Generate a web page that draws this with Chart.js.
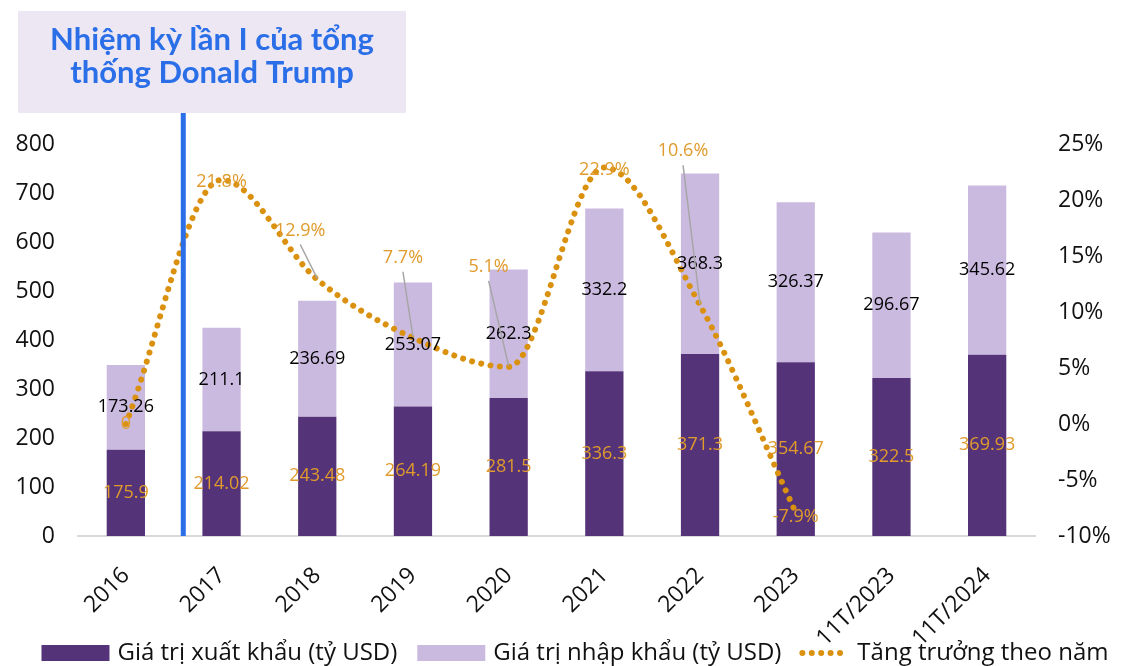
<!DOCTYPE html>
<html>
<head>
<meta charset="utf-8">
<script src="https://cdn.jsdelivr.net/npm/chart.js@4.4.1/dist/chart.umd.min.js"></script>
<style>
html, body { margin: 0; padding: 0; background: #fff; }
#wrap { width: 1122px; height: 666px; position: relative; }
</style>
</head>
<body>
<div id="wrap"><canvas id="chart" width="1122" height="666"></canvas></div>
<script>
// data
const years = ['2016', '2017', '2018', '2019', '2020', '2021', '2022', '2023', '11T/2023', '11T/2024'];
const exportVals = [175.9, 214.02, 243.48, 264.19, 281.5, 336.3, 371.3, 354.67, 322.5, 369.93];
const importVals = [173.26, 211.1, 236.69, 253.07, 262.3, 332.2, 368.3, 326.37, 296.67, 345.62];
const growthVals = [0, 21.8, 12.9, 7.7, 5.1, 22.9, 10.6, -7.9, null, null];
const leftAxis = [0, 800, 100];   // min, max, step
const rightAxis = [-10, 25, 5];   // min, max, step (%)
const seriesNames = ['Giá trị xuất khẩu (tỷ USD)', 'Giá trị nhập khẩu (tỷ USD)', 'Tăng trưởng theo năm'];
const noteLines = ['Nhiệm kỳ lần I của tổng', 'thống Donald Trump'];
const termMark = 0.6; // category position of the blue marker

// pixel nudges for the growth labels (leader line when far away)
const growthShift = [[0, 0], [0, 2], [-17, -49], [-10, -80], [-20, -100], [0, 2], [-17, -154], [0, 4], null, null];

const DARK = '#543378';
const LIGHT = '#CBBAE0';
const ORANGE = '#DA910F';
const LABEL_ORANGE = '#E09B2C';
const BLUE = '#2B6FE8';
const FONT = "'Open Sans', sans-serif";
const DOTS = [0.01, 9.4];

const labelsPlugin = {
    id: 'valueLabels',
    afterDatasetsDraw(chart) {
        const ctx = chart.ctx;
        const y = chart.scales.y;
        const y1 = chart.scales.y1;
        const x = chart.scales.x;
        ctx.save();
        ctx.textAlign = 'center';
        ctx.textBaseline = 'middle';
        ctx.font = '18px ' + FONT;
        years.forEach((_, i) => {
            const cx = x.getPixelForValue(i);
            ctx.fillStyle = LABEL_ORANGE;
            ctx.fillText(String(exportVals[i]), cx, y.getPixelForValue(exportVals[i] / 2));
            ctx.fillStyle = '#000';
            ctx.fillText(String(importVals[i]), cx, y.getPixelForValue(exportVals[i] + importVals[i] / 2));
        });
        // growth labels
        growthVals.forEach((v, i) => {
            if (v === null) return;
            const px = x.getPixelForValue(i);
            const py = y1.getPixelForValue(v);
            const [dx, dy] = growthShift[i];
            const lx = px + dx, ly = py + dy;
            if (Math.abs(dy) > 20) {
                ctx.strokeStyle = '#A6A6A6';
                ctx.lineWidth = 1.5;
                ctx.beginPath();
                ctx.moveTo(lx, ly + 14);
                ctx.lineTo(px, py - 1);
                ctx.stroke();
            }
            ctx.fillStyle = LABEL_ORANGE;
            ctx.fillText(v === 0 ? '0' : v.toFixed(1) + '%', lx, ly);
        });
        ctx.restore();
    },
    afterDraw(chart) {
        const ctx = chart.ctx;
        const bx = chart.scales.x.getPixelForValue(termMark);
        ctx.save();
        // marker line for the first term
        ctx.fillStyle = BLUE;
        ctx.fillRect(bx - 2.5, 113, 5, chart.chartArea.bottom - 113);
        // note box
        ctx.fillStyle = '#EDE7F3';
        ctx.fillRect(18, 11, 388, 102);
        ctx.fillStyle = BLUE;
        ctx.font = "bold 31px Lato, sans-serif";
        ctx.textAlign = 'center';
        ctx.textBaseline = 'alphabetic';
        ctx.fillText(noteLines[0], 212, 50);
        ctx.fillText(noteLines[1], 212, 83);

        // legend row
        ctx.font = '24px ' + FONT;
        ctx.textAlign = 'left';
        ctx.textBaseline = 'middle';
        const ly = 653;
        const keyW = [68, 68, 48];
        let total = 0;
        seriesNames.forEach((s, i) => { total += keyW[i] + 8 + ctx.measureText(s).width; });
        total += 2 * 20;
        let lx = 575 - total / 2;
        seriesNames.forEach((s, i) => {
            if (i < 2) {
                ctx.fillStyle = i === 0 ? DARK : LIGHT;
                ctx.fillRect(lx, ly - 8, keyW[i], 16);
            } else {
                ctx.strokeStyle = ORANGE;
                ctx.lineWidth = 6;
                ctx.lineCap = 'round';
                ctx.setLineDash(DOTS);
                ctx.beginPath();
                ctx.moveTo(lx + 1, ly);
                ctx.lineTo(lx + keyW[i], ly);
                ctx.stroke();
                ctx.setLineDash([]);
            }
            lx += keyW[i] + 8;
            ctx.fillStyle = '#111';
            ctx.fillText(s, lx, ly);
            lx += ctx.measureText(s).width + 20;
        });
        ctx.restore();
    }
};

const ctx = document.getElementById('chart').getContext('2d');
const chart = new Chart(ctx, {
    type: 'bar',
    data: {
        labels: years,
        datasets: [{
            label: seriesNames[0],
            data: exportVals,
            backgroundColor: DARK,
            stack: 'trade',
            order: 1,
            barPercentage: 0.8,
            categoryPercentage: 0.5
        }, {
            label: seriesNames[1],
            data: importVals,
            backgroundColor: LIGHT,
            stack: 'trade',
            order: 1,
            barPercentage: 0.8,
            categoryPercentage: 0.5
        }, {
            type: 'line',
            label: seriesNames[2],
            data: growthVals,
            yAxisID: 'y1',
            borderColor: ORANGE,
            borderWidth: 6,
            borderDash: DOTS,
            borderCapStyle: 'round',
            cubicInterpolationMode: 'monotone',
            pointRadius: 0,
            fill: false,
            spanGaps: false,
            order: 0
        }]
    },
    options: {
        responsive: false,
        animation: false,
        devicePixelRatio: 1,
        layout: { padding: { top: 144, left: 0, right: 0, bottom: 0 } },
        plugins: {
            tooltip: { enabled: false },
            legend: { display: false }
        },
        scales: {
            x: {
                stacked: true,
                grid: { display: false, drawTicks: false },
                border: { display: true, color: '#D9D9D9', width: 2 },
                ticks: {
                    color: '#111',
                    font: { family: FONT, size: 23 },
                    maxRotation: 45,
                    minRotation: 45,
                    padding: 26
                },
                afterFit(s) { s.height = 130; }
            },
            y: {
                stacked: true,
                position: 'left',
                min: leftAxis[0],
                max: leftAxis[1],
                grid: { display: false, drawTicks: false },
                border: { display: false },
                ticks: {
                    stepSize: leftAxis[2],
                    color: '#111',
                    font: { family: FONT, size: 23 },
                    padding: 23
                },
                afterFit(s) { s.width = 78; }
            },
            y1: {
                position: 'right',
                min: rightAxis[0],
                max: rightAxis[1],
                grid: { display: false, drawTicks: false },
                border: { display: false },
                ticks: {
                    stepSize: rightAxis[2],
                    color: '#111',
                    font: { family: FONT, size: 23 },
                    padding: 23,
                    callback: v => v + '%'
                },
                afterFit(s) { s.width = 87; }
            }
        }
    },
    plugins: [labelsPlugin]
});
</script>
</body>
</html>
